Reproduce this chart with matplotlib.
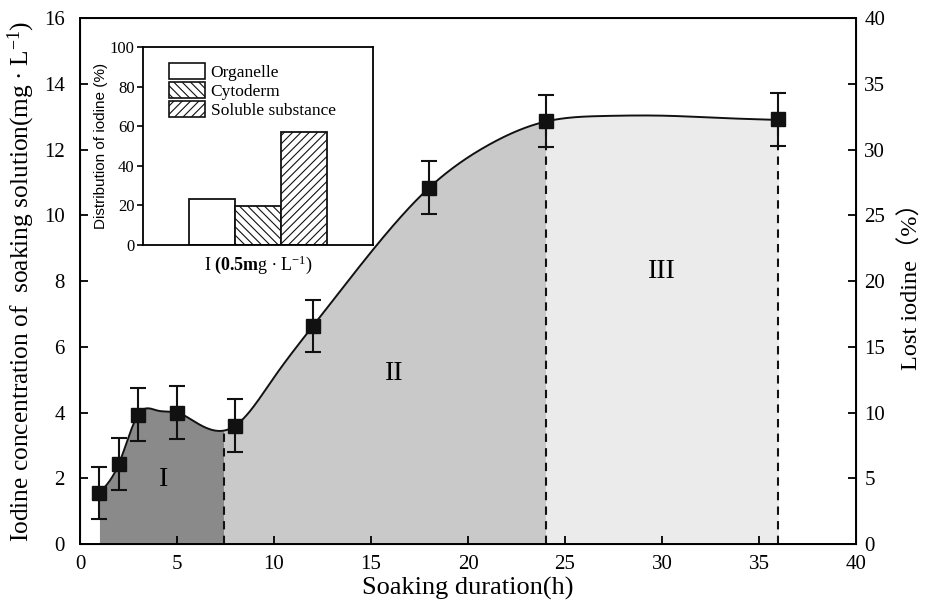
import numpy as np
import matplotlib
matplotlib.use("Agg")
import matplotlib.pyplot as plt
from matplotlib.patches import Patch

plt.rcParams['font.family'] = ['Liberation Serif', 'Noto Sans CJK SC']
plt.rcParams['mathtext.fontset'] = 'custom'
plt.rcParams['mathtext.rm'] = 'Liberation Serif'
plt.rcParams['mathtext.it'] = 'Liberation Serif:italic'
plt.rcParams['mathtext.bf'] = 'Liberation Serif:bold'
plt.rcParams['hatch.linewidth'] = 0.8

# measured points
time_h = [1, 2, 3, 5, 8, 12, 18, 24, 36]
conc = [1.56, 2.44, 3.94, 4.0, 3.6, 6.63, 10.84, 12.87, 12.92]
conc_err = [0.8, 0.8, 0.8, 0.8, 0.8, 0.8, 0.8, 0.8, 0.8]

# fitted curve
curve_x = [1, 2, 3, 4, 5, 6, 7.4, 8, 10, 12, 15, 18, 21, 24, 27, 30, 33, 36]
curve_y = [1.56, 2.44, 3.94, 4.06, 4.0, 3.69, 3.45, 3.6, 5.07, 6.63, 8.88,
           10.84, 12.12, 12.85, 13.02, 13.03, 12.96, 12.9]

stage_bounds = [1, 7.4, 24, 36]
stage_labels = ['I', 'II', 'III']
stage_colors = ['#8a8a8a', '#c9c9c9', '#ebebeb']

# inset data
inset_cats = ['Organelle', 'Cytoderm', 'Soluble substance']
inset_vals = [23, 19.5, 57]
inset_hatch = ['', '\\\\\\\\', '////']


def natural_spline(xk, yk, xs):
    xk = np.asarray(xk, float); yk = np.asarray(yk, float)
    n = len(xk)
    h = np.diff(xk)
    A = np.zeros((n, n)); b = np.zeros(n)
    A[0, 0] = 1; A[-1, -1] = 1
    for i in range(1, n - 1):
        A[i, i - 1] = h[i - 1]
        A[i, i] = 2 * (h[i - 1] + h[i])
        A[i, i + 1] = h[i]
        b[i] = 6 * ((yk[i + 1] - yk[i]) / h[i] - (yk[i] - yk[i - 1]) / h[i - 1])
    M = np.linalg.solve(A, b)
    idx = np.clip(np.searchsorted(xk, xs) - 1, 0, n - 2)
    x0 = xk[idx]; x1 = xk[idx + 1]; hh = x1 - x0
    t0 = x1 - xs; t1 = xs - x0
    return (M[idx] * t0**3 / (6 * hh) + M[idx + 1] * t1**3 / (6 * hh)
            + (yk[idx] / hh - M[idx] * hh / 6) * t0
            + (yk[idx + 1] / hh - M[idx + 1] * hh / 6) * t1)


fig = plt.figure(figsize=(9.34, 6.1), dpi=100)
ax = fig.add_axes([0.0857, 0.108, 0.8308, 0.8625])

xs = np.linspace(curve_x[0], curve_x[-1], 800)
ys = natural_spline(curve_x, curve_y, xs)

for i in range(3):
    lo, hi = stage_bounds[i], stage_bounds[i + 1]
    xx = np.linspace(lo, hi, 300)
    yy = natural_spline(curve_x, curve_y, xx)
    ax.fill_between(xx, 0, yy, color=stage_colors[i], lw=0, zorder=1)

for xb in stage_bounds[1:]:
    yb = float(natural_spline(curve_x, curve_y, np.array([xb]))[0])
    ax.plot([xb, xb], [0, yb], ls=(0, (4, 3)), color='#111111', lw=1.5, zorder=2)

ax.plot(xs, ys, color='#111111', lw=1.4, zorder=3)
ax.errorbar(time_h, conc, yerr=conc_err, fmt='s', color='#111111',
            ms=9.5, capsize=6, elinewidth=1.5, capthick=1.5, zorder=4)

label_pos = [(4.3, 1.95), (16.2, 5.2), (30.0, 8.3)]
for (lx, ly), t in zip(label_pos, stage_labels):
    ax.text(lx, ly, t, fontsize=20, ha='center', va='center', zorder=5)

ax.set_xlim(0, 40)
ax.set_ylim(0, 16)
ax.set_xticks(np.arange(0, 41, 5))
ax.set_yticks(np.arange(0, 17, 2))
ax.tick_params(direction='in', labelsize=15, length=6, width=1.3, right=False, top=False)
ax.tick_params(axis='x', pad=8)
ax.tick_params(axis='y', pad=11)
for s in ax.spines.values():
    s.set_linewidth(1.4)
ax.set_xlabel('Soaking duration(h)', fontsize=19, labelpad=2)
ax.set_ylabel('Iodine concentration of  soaking solution(mg $\\bullet$ L$^{-1}$)', fontsize=18.3, labelpad=5)

ax2 = ax.twinx()
ax2.set_ylim(0, 40)
ax2.set_yticks(np.arange(0, 41, 5))
ax2.tick_params(direction='in', labelsize=15, length=6, width=1.3, pad=6)
ax2.set_ylabel('Lost iodine（%）', fontsize=17.5, labelpad=10,
               family=['Liberation Serif', 'Noto Sans CJK SC'])

# inset
ins = fig.add_axes([143 / 934, 1 - 245 / 610, 230 / 934, 198 / 610])
bx = [0.3, 0.5, 0.7]
for x, v, h in zip(bx, inset_vals, inset_hatch):
    ins.bar(x, v, width=0.2, facecolor='white', edgecolor='#111111', hatch=h, lw=1.3)
ins.set_xlim(0, 1)
ins.set_ylim(0, 100)
ins.set_xticks([])
ins.set_yticks(np.arange(0, 101, 20))
ins.tick_params(direction='out', labelsize=12, length=4, width=1.2, pad=2)
for s in ins.spines.values():
    s.set_linewidth(1.3)
ins.set_ylabel('Distribution of iodine (%)', fontsize=11, family='Liberation Sans', labelpad=1)
ins.set_xlabel('I $\\mathbf{(0.5m}$g $\\bullet$ L$^{-1}$)', fontsize=13, labelpad=6)
handles = [Patch(facecolor='white', edgecolor='#111111', hatch=h, lw=1.2) for h in inset_hatch]
leg = ins.legend(handles, inset_cats, loc='upper left', frameon=False, fontsize=12.5,
                 handlelength=2.1, handleheight=1.0, handletextpad=0.3, labelspacing=0.08,
                 borderaxespad=0.3, bbox_to_anchor=(0.06, 0.98))

fig.savefig('out.png', dpi=100)
